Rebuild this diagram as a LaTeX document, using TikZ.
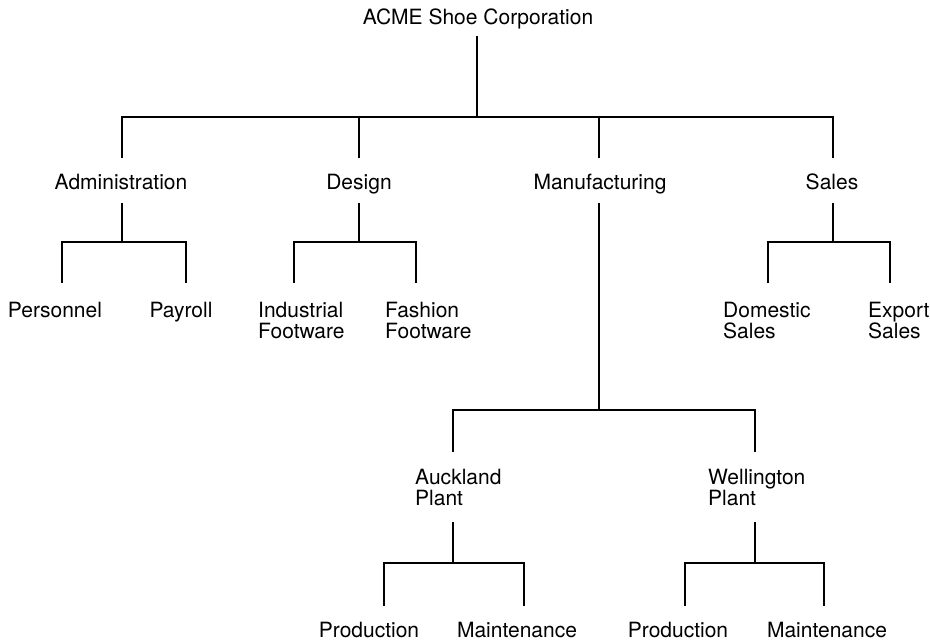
\documentclass[tikz,border=0pt]{standalone}
\usepackage{fontspec}
\setmainfont{TeX Gyre Heros}
\begin{document}
\begin{tikzpicture}[x=1pt,y=-1pt,
  lbl/.style={inner sep=0pt, font=\fontsize{21}{21}\selectfont, anchor=base},
  blk/.style={inner sep=0pt, font=\fontsize{21}{21}\selectfont, align=left, anchor=north west},
  link/.style={line width=2.5pt, line cap=butt, line join=miter},
]
\useasboundingbox (0,0) rectangle (930,641);

% ---- labels ----
\node[lbl] (root) at (478,24)  {ACME Shoe Corporation};

\node[lbl] (adm) at (121,189) {Administration};
\node[lbl] (des) at (359,189) {Design};
\node[lbl] (man) at (600,189) {Manufacturing};
\node[lbl] (sal) at (832,189) {Sales};

\node[lbl] (per) at (55,317)  {Personnel};
\node[lbl] (pay) at (181,317) {Payroll};
\node[blk] (ind) at (258,302) {Industrial\\Footware};
\node[blk] (fas) at (385,302) {Fashion\\Footware};
\node[blk] (dom) at (723,302) {Domestic\\Sales};
\node[blk] (exp) at (868,302) {Export\\Sales};

\node[blk] (akl) at (415,469) {Auckland\\Plant};
\node[blk] (wel) at (708,469) {Wellington\\Plant};

\node[lbl] (ap) at (369,637) {Production};
\node[lbl] (am) at (517,637) {Maintenance};
\node[lbl] (wp) at (678,637) {Production};
\node[lbl] (wm) at (827,637) {Maintenance};

% ---- corporation to divisions ----
\draw[link] ([xshift=-1pt,yshift=-12pt]root.base) -- ++(0,81);
\draw[link] ([xshift=1pt,yshift=31pt]adm.base) -- ++(0,-41)
            -| ([xshift=1pt,yshift=31pt]sal.base);
\draw[link] ([yshift=31pt]des.base) -- ++(0,-41);
\draw[link] ([xshift=-1pt,yshift=31pt]man.base) -- ++(0,-41);

% ---- Administration ----
\draw[link] ([xshift=1pt,yshift=-14pt]adm.base) -- ++(0,39);
\draw[link] ([xshift=7pt,yshift=34pt]per.base) -- ++(0,-41)
            -| ([xshift=5pt,yshift=34pt]pay.base);

% ---- Design ----
\draw[link] ([yshift=-14pt]des.base) -- ++(0,39);
\draw[link] ([xshift=36pt,yshift=19pt]ind.north west) -- ++(0,-41)
            -| ([xshift=31pt,yshift=19pt]fas.north west);

% ---- Sales ----
\draw[link] ([xshift=1pt,yshift=-14pt]sal.base) -- ++(0,39);
\draw[link] ([xshift=45pt,yshift=19pt]dom.north west) -- ++(0,-41)
            -| ([xshift=22pt,yshift=19pt]exp.north west);

% ---- Manufacturing to plants ----
\draw[link] ([xshift=-1pt,yshift=-14pt]man.base) -- ++(0,207);
\draw[link] ([xshift=38pt,yshift=17pt]akl.north west) -- ++(0,-42)
            -| ([xshift=47pt,yshift=17pt]wel.north west);

% ---- Auckland Plant ----
\draw[link] ([xshift=38pt,yshift=-53pt]akl.north west) -- ++(0,41);
\draw[link] ([xshift=15pt,yshift=31pt]ap.base) -- ++(0,-43)
            -| ([xshift=7pt,yshift=31pt]am.base);

% ---- Wellington Plant ----
\draw[link] ([xshift=47pt,yshift=-53pt]wel.north west) -- ++(0,41);
\draw[link] ([xshift=7pt,yshift=31pt]wp.base) -- ++(0,-43)
            -| ([xshift=-3pt,yshift=31pt]wm.base);
\end{tikzpicture}
\end{document}
